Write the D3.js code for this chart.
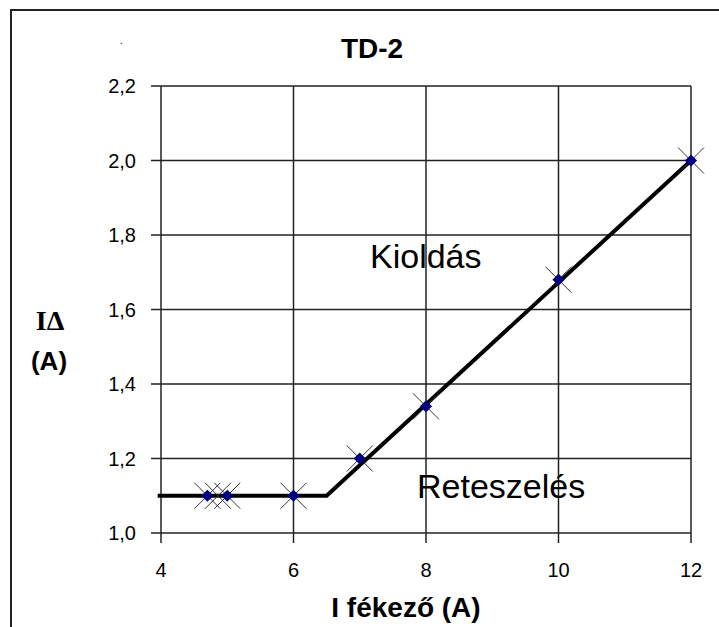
<!DOCTYPE html>
<html>
<head>
<meta charset="utf-8">
<script src="https://cdn.jsdelivr.net/npm/d3@7"></script>
<style>
  body { margin: 0; background: #fff; }
  text { font-family: "Liberation Sans", Arial, sans-serif; fill: #000; }
  .tick-label { font-size: 20px; }
  .grid { stroke: #222; stroke-width: 1.5; }
</style>
</head>
<body>
<div id="chart"></div>
<script>
// tick values / labels
const xTicks = [4, 6, 8, 10, 12];
const yTicks = [1.0, 1.2, 1.4, 1.6, 1.8, 2.0, 2.2];

// characteristic curve (the thick line)
const curveX = [3.95, 6.5, 12];
const curveY = [1.1, 1.1, 2.0];

// measured points (blue diamonds)
const measX = [4.7, 5, 6, 7, 8, 10, 12];
const measY = [1.1, 1.1, 1.1, 1.2, 1.34, 1.68, 2.0];

// calculated points (crosses)
const calcX = [4.7, 4.86, 5, 6, 7, 8, 10, 12];
const calcY = [1.1, 1.1, 1.1, 1.1, 1.2, 1.34, 1.68, 2.0];

const width = 719,
      height = 627;

const svg = d3.select('#chart').append('svg')
    .attr('width', width)
    .attr('height', height);

// outer frame (cut off on right and bottom)
svg.append('rect')
    .attr('x', 11).attr('y', 10)
    .attr('width', 760).attr('height', 700)
    .attr('fill', 'none')
    .attr('stroke', '#222')
    .attr('stroke-width', 2);

let x = d3.scaleLinear().domain([4, 12]).range([161, 691]);
let y = d3.scaleLinear().domain([1.0, 2.2]).range([533, 86]);

// gridlines
svg.append('g')
    .selectAll('line')
    .data(yTicks)
    .enter().append('line')
    .attr('class', 'grid')
    .attr('x1', x(4) - 10)
    .attr('x2', x(12))
    .attr('y1', d => y(d))
    .attr('y2', d => y(d));

svg.append('g')
    .selectAll('line')
    .data(xTicks)
    .enter().append('line')
    .attr('class', 'grid')
    .attr('x1', d => x(d))
    .attr('x2', d => x(d))
    .attr('y1', y(2.2))
    .attr('y2', y(1.0) + 10);

// tick labels
svg.append('g')
    .selectAll('text')
    .data(yTicks)
    .enter().append('text')
    .attr('class', 'tick-label')
    .attr('x', 136)
    .attr('y', d => y(d) + 7)
    .attr('text-anchor', 'end')
    .text(d => d3.format('.1f')(d).replace('.', ','));

svg.append('g')
    .selectAll('text')
    .data(xTicks)
    .enter().append('text')
    .attr('class', 'tick-label')
    .attr('x', d => x(d))
    .attr('y', 577)
    .attr('text-anchor', 'middle')
    .text(d => d);

// thick characteristic line
let line = d3.line()
    .x(d => x(d[0]))
    .y(d => y(d[1]));

svg.append('path')
    .datum(curveX.map((v, i) => [v, curveY[i]]))
    .attr('d', line)
    .attr('fill', 'none')
    .attr('stroke', '#000')
    .attr('stroke-width', 4)
    .attr('stroke-linejoin', 'miter');

// crosses
const cs = 13;
svg.append('g')
    .selectAll('path')
    .data(calcX.map((v, i) => [v, calcY[i]]))
    .enter().append('path')
    .attr('d', d => {
        const px = x(d[0]), py = y(d[1]);
        return `M${px - cs},${py - cs}L${px + cs},${py + cs}M${px - cs},${py + cs}L${px + cs},${py - cs}`;
    })
    .attr('stroke', '#333')
    .attr('stroke-width', 1);

// diamonds
svg.append('g')
    .selectAll('path')
    .data(measX.map((v, i) => [v, measY[i]]))
    .enter().append('path')
    .attr('transform', d => `translate(${x(d[0])},${y(d[1])})`)
    .attr('d', d3.symbol().type(d3.symbolDiamond2).size(95))
    .attr('fill', '#000080');

// region labels
svg.append('text')
    .attr('x', 370).attr('y', 268)
    .style('font-size', '34px')
    .text('Kioldás');

svg.append('text')
    .attr('x', 417).attr('y', 498)
    .style('font-size', '34px')
    .text('Reteszelés');

// title
svg.append('text')
    .attr('x', 372).attr('y', 58)
    .attr('text-anchor', 'middle')
    .style('font-size', '28px')
    .style('font-weight', 'bold')
    .text('TD-2');

svg.append('text')
    .attr('x', 120).attr('y', 44)
    .style('font-size', '10px')
    .text('.');

// axis titles
svg.append('text')
    .attr('x', 406).attr('y', 617)
    .attr('text-anchor', 'middle')
    .style('font-size', '28px')
    .style('font-weight', 'bold')
    .text('I fékező (A)');

svg.append('text')
    .attr('x', 50).attr('y', 330)
    .attr('text-anchor', 'middle')
    .style('font-family', '"Liberation Serif", "Times New Roman", serif')
    .style('font-size', '28px')
    .style('font-weight', 'bold')
    .text('IΔ');

svg.append('text')
    .attr('x', 49).attr('y', 370)
    .attr('text-anchor', 'middle')
    .style('font-size', '26px')
    .style('font-weight', 'bold')
    .text('(A)');
</script>
</body>
</html>
